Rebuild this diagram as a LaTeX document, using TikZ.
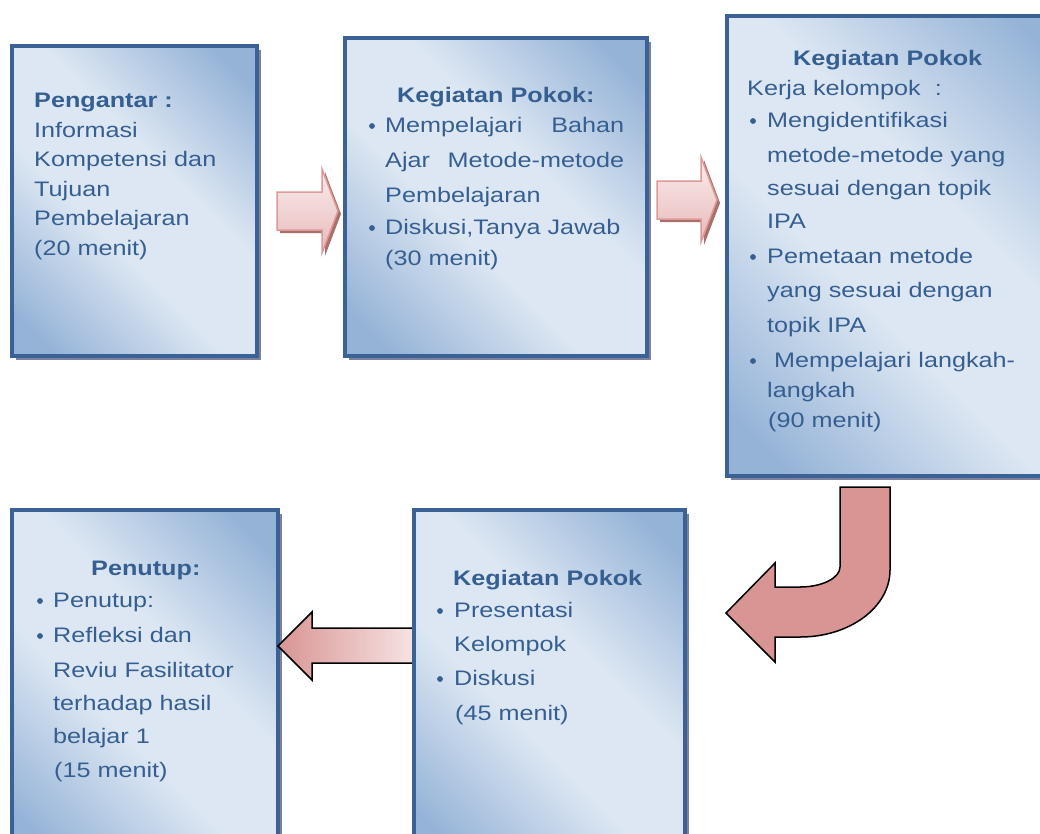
\documentclass[tikz,border=0pt]{standalone}
\usepackage{fontspec}
\setmainfont{Liberation Sans}[FakeStretch=1.2]
\usetikzlibrary{shadows}
\definecolor{bdk}{RGB}{149,179,215}
\definecolor{blt}{RGB}{221,231,243}
\definecolor{bord}{RGB}{59,98,148}
\definecolor{shd}{RGB}{125,128,158}
\definecolor{txtc}{RGB}{54,95,145}
\definecolor{pk}{RGB}{217,149,148}
\definecolor{pklt}{RGB}{246,226,226}
\definecolor{pktop}{RGB}{250,236,237}
\definecolor{pkbot}{RGB}{232,186,186}
\definecolor{pkbd}{RGB}{222,152,152}
\definecolor{pksh}{RGB}{168,112,106}
\pgfdeclareverticalshading{boxsh}{100bp}{color(0bp)=(bdk); color(20bp)=(bdk); color(42bp)=(blt); color(58bp)=(blt); color(80bp)=(bdk); color(100bp)=(bdk)}
\tikzset{
  box/.style={draw=bord, line width=3.5pt, anchor=north west, inner sep=0pt, outer sep=0pt,
    shading=boxsh, shading angle=-45,
    drop shadow={opacity=1, fill=shd, shadow xshift=4pt, shadow yshift=-4pt}},
  txt/.style={anchor=base west, inner sep=0pt, text=txtc, font=\fontsize{21}{25}\selectfont},
  ttl/.style={txt, font=\fontsize{21}{25}\selectfont\bfseries},
  rarrow/.style={draw=pkbd, line width=1.5pt, top color=pktop, bottom color=pkbot, line join=miter},
  rshadow/.style={fill=pksh, shift={(3,3)}},
  bentarrow/.style={fill=pk, draw=black, line width=1.5pt, line join=miter},
  larrow/.style={draw=black, line width=1.5pt, left color=pk, right color=pklt, line join=miter},
  bul/.style={fill=txtc}
}
\begin{document}
\begin{tikzpicture}[x=1pt,y=-1pt]
\useasboundingbox (0,0) rectangle (1040,833);
\begin{scope}
\clip (0,0) rectangle (1040,833);
% boxes
\node[box, minimum width=245pt, minimum height=310pt] (b1) at (12,46) {};
\node[box, minimum width=302pt, minimum height=318pt] (b2) at (345,38) {};
\node[box, minimum width=350pt, minimum height=460pt] (b3) at (727,16) {};
\node[box, minimum width=266pt, minimum height=350pt] (b5) at (12,510) {};
% left arrow (behind box 4)
\path[larrow] (413,628) -- (312,628) -- (312,612) -- (278,646) -- (312,680) -- (312,663) -- (413,663) -- cycle;
\node[box, minimum width=271pt, minimum height=350pt] (b4) at (414,510) {};
\end{scope}
% right arrows
\fill[rshadow] (277,192) -- (322,192) -- (322,169) -- (338,211) -- (322,253) -- (322,230) -- (277,230) -- cycle;
\path[rarrow] (277,192) -- (322,192) -- (322,169) -- (338,211) -- (322,253) -- (322,230) -- (277,230) -- cycle;
\fill[rshadow] (657,181) -- (701,181) -- (701,157) -- (717,200) -- (701,242) -- (701,219) -- (657,219) -- cycle;
\path[rarrow] (657,181) -- (701,181) -- (701,157) -- (717,200) -- (701,242) -- (701,219) -- (657,219) -- cycle;
% bent arrow
\path[bentarrow] (840,487) -- (890,487) -- (890,570) .. controls (890,607) and (850,637) .. (800,637)
  -- (775,637) -- (775,662) -- (726,613) -- (775,563) -- (775,587) -- (800,587)
  .. controls (822,587) and (840,578) .. (840,567) -- cycle;
% bullets
\foreach \x/\y in {372/126, 372/228, 753/121, 753/257, 753/361, 40/601, 40/636, 440/611, 440/679}
  \fill[bul] (\x,\y) circle (2.9pt);
% box 1 text
\node[ttl] (t1) at (34,107) {Pengantar :};
\foreach \y/\t [count=\i] in {137/Informasi, 166/{Kompetensi dan}, 196/Tujuan, 225/Pembelajaran, 255/{(20 menit)}}
  \node[txt] (t1\i) at (34,\y) {\t};
% box 2 text
\node[ttl] (t2) at (397,102) {Kegiatan Pokok:};
\node[txt] (t21) at (385,132) {\makebox[239pt][l]{Mempelajari\hfill Bahan}};
\node[txt] (t22) at (385,167) {\makebox[239pt][l]{Ajar\hfill Metode-metode}};
\node[txt] (t23) at (385,202) {Pembelajaran};
\node[txt] (t24) at (385,234) {Diskusi,Tanya Jawab};
\node[txt] (t25) at (385,265) {(30 menit)};
% box 3 text
\node[ttl] (t3) at (793,65) {Kegiatan Pokok};
\node[txt] (t30) at (747,95) {Kerja kelompok\ \ :};
\foreach \y/\t [count=\i] in {127/Mengidentifikasi, 162/{metode-metode yang}, 195/{sesuai dengan topik}, 228/IPA, 263/{Pemetaan metode}, 297/{yang sesuai dengan}, 332/{topik IPA}}
  \node[txt] (t3\i) at (767,\y) {\t};
\node[txt] (t38) at (774,367) {Mempelajari langkah-};
\node[txt] (t39) at (767,397) {langkah};
\node[txt] (t3a) at (768,427) {(90 menit)};
% box 4 text
\node[ttl] (t4) at (453,585) {Kegiatan Pokok};
\foreach \y/\t [count=\i] in {617/Presentasi, 651/Kelompok, 685/Diskusi}
  \node[txt] (t4\i) at (454,\y) {\t};
\node[txt] (t44) at (455,720) {(45 menit)};
% box 5 text
\node[ttl] (t5) at (91,575) {Penutup:};
\foreach \y/\t [count=\i] in {607/Penutup:, 642/{Refleksi dan}, 677/{Reviu Fasilitator}, 710/{terhadap hasil}, 743/{belajar 1}}
  \node[txt] (t5\i) at (53,\y) {\t};
\node[txt] (t56) at (54,777) {(15 menit)};
\end{tikzpicture}
\end{document}
